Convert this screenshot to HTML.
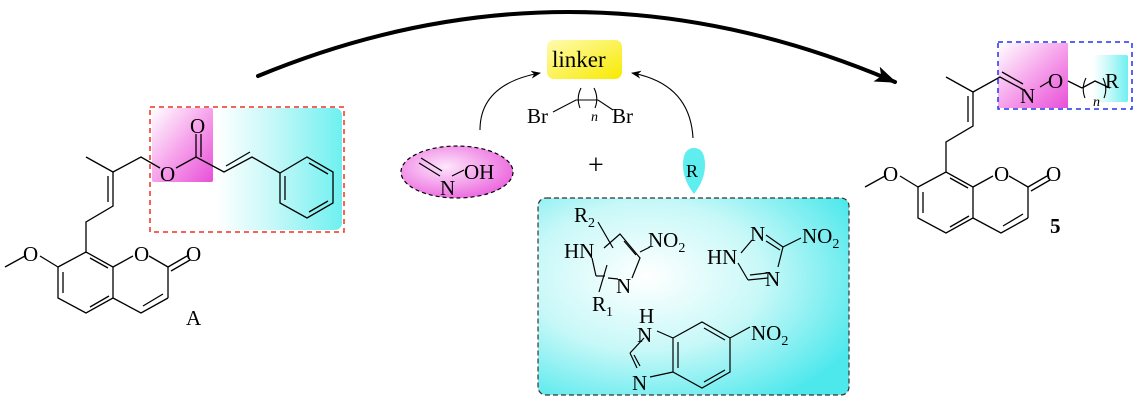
<!DOCTYPE html>
<html><head><meta charset="utf-8"><style>
html,body{margin:0;padding:0;background:#fff;}
svg{display:block;}
text{font-family:"Liberation Serif",serif;font-size:21px;fill:#000;}
.s{font-size:14px;}
</style></head><body>
<svg width="1137" height="402" viewBox="0 0 1137 402" xmlns="http://www.w3.org/2000/svg">
<defs>
<linearGradient id="mag" x1="0" y1="0" x2="1" y2="1"><stop offset="0" stop-color="#fff"/><stop offset="0.55" stop-color="#f59ae9"/><stop offset="1" stop-color="#e84fd8"/></linearGradient>
<linearGradient id="cy" x1="0" y1="0" x2="1" y2="0"><stop offset="0" stop-color="#fff"/><stop offset="0.45" stop-color="#c6f8f8"/><stop offset="1" stop-color="#6ff0f0"/></linearGradient>
<radialGradient id="cyb" cx="0.35" cy="0.4" r="0.75"><stop offset="0" stop-color="#fff"/><stop offset="0.5" stop-color="#c8f8f8"/><stop offset="1" stop-color="#4de8ec"/></radialGradient>
<radialGradient id="ell" cx="0.4" cy="0.4" r="0.7"><stop offset="0" stop-color="#fde6fb"/><stop offset="1" stop-color="#ea5cdc"/></radialGradient>
<linearGradient id="yel" x1="0" y1="0" x2="1" y2="1"><stop offset="0" stop-color="#fffbb0"/><stop offset="1" stop-color="#f8ea00"/></linearGradient>
<marker id="ah" markerWidth="10" markerHeight="8" refX="9" refY="4" orient="auto" markerUnits="userSpaceOnUse"><path d="M0,0 L10,4 L0,8 L3,4 z" fill="#000"/></marker>
<marker id="ahb" markerWidth="22" markerHeight="16" refX="20" refY="8" orient="auto" markerUnits="userSpaceOnUse"><path d="M0,0 L22,8 L0,16 L5,8 z" fill="#000"/></marker>
</defs>

<path d="M258,76 Q575,-55 895,82" fill="none" stroke="#000" stroke-width="4" stroke-linecap="round" marker-end="url(#ahb)"/>

<rect x="152" y="108" width="61" height="74" fill="url(#mag)" rx="2"/>
<rect x="216" y="108" width="126" height="122" fill="url(#cy)" rx="7"/>
<rect x="150" y="107" width="194" height="125" fill="none" stroke="#e32" stroke-width="1.5" stroke-dasharray="5,4"/>

<g stroke="#000" stroke-width="1.3" fill="none">
<line x1="5" y1="267" x2="25" y2="256"/>
<line x1="40" y1="256" x2="58" y2="267"/>
<polyline points="58,267 86,252 113,267 113,298 86,313 58,298 58,267"/>
<line x1="63" y1="272" x2="63" y2="293"/>
<line x1="90" y1="307" x2="109" y2="296"/>
<line x1="90" y1="258" x2="108" y2="268"/>
<line x1="113" y1="267" x2="133" y2="256"/>
<line x1="149" y1="256" x2="168" y2="267"/>
<line x1="168" y1="267" x2="168" y2="298"/>
<polyline points="168,298 141,313 113,298"/>
<line x1="163" y1="294" x2="143" y2="306"/>
<line x1="168" y1="267" x2="187" y2="256"/>
<line x1="171" y1="271" x2="190" y2="260"/>
<polyline points="86,252 86,222 113,206 113,172"/>
<line x1="108" y1="202" x2="108" y2="176"/>
<line x1="86" y1="157" x2="113" y2="172"/>
<polyline points="113,172 141,157 160,168"/>
<line x1="176" y1="168" x2="196" y2="157"/>
<line x1="196" y1="157" x2="196" y2="134"/>
<line x1="201" y1="157" x2="201" y2="134"/>
<polyline points="196,157 224,172 252,157 280,173"/>
<line x1="226" y1="166" x2="250" y2="152"/>
<polygon points="280,173 307,157 333,172 333,203 307,218 280,203"/>
<line x1="285" y1="176" x2="285" y2="200"/>
<line x1="309" y1="163" x2="328" y2="174"/>
<line x1="309" y1="212" x2="328" y2="201"/>
</g>
<text x="23" y="261">O</text>
<text x="134" y="261">O</text>
<text x="186" y="261">O</text>
<text x="160" y="181">O</text>
<text x="190" y="133">O</text>
<text x="186" y="325">A</text>

<rect x="547" y="40" width="75" height="39" rx="7" fill="url(#yel)"/>
<text x="552" y="67" style="font-size:23px">linker</text>
<text x="527" y="123">Br</text>
<text x="612" y="123">Br</text>
<g stroke="#000" stroke-width="1.1" fill="none">
<polyline points="553,112 576,100 598,100 613,110"/>
<path d="M581,88 Q576,98 580,108"/>
<path d="M594,88 Q599,98 595,108"/>
<path d="M480,130 Q480,84 540,73" marker-end="url(#ah)"/>
<path d="M693,138 Q690,84 632,73" marker-end="url(#ah)"/>
</g>
<text x="591" y="121" class="s" style="font-style:italic">n</text>

<ellipse cx="457" cy="172" rx="56" ry="26" fill="url(#ell)" stroke="#000" stroke-width="1.2" stroke-dasharray="4,3"/>
<g stroke="#000" stroke-width="1.2"><line x1="419" y1="163" x2="440" y2="176"/><line x1="421" y1="158" x2="442" y2="171"/><line x1="452" y1="176" x2="464" y2="170"/></g>
<text x="440" y="195">N</text>
<text x="464" y="179">OH</text>
<text x="588" y="174" style="font-size:28px">+</text>

<path d="M694,194 Q683,180 683,165 Q683,148 694,148 Q705,148 705,165 Q705,180 694,194 z" fill="#5eeef0"/>
<text x="686" y="177" style="font-size:18px">R</text>

<rect x="538" y="198" width="311" height="197" rx="8" fill="url(#cyb)" stroke="#333" stroke-width="1.2" stroke-dasharray="5,3"/>
<g stroke="#000" stroke-width="1.2" fill="none">
<line x1="592" y1="258" x2="596" y2="276"/>
<line x1="596" y1="276" x2="605" y2="276"/>
<line x1="608" y1="278" x2="618" y2="279"/>
<polyline points="632,278 640,258 620,234 604,248"/>
<line x1="624" y1="241" x2="636" y2="255"/>
<line x1="598" y1="222" x2="613" y2="248"/>
<line x1="607" y1="265" x2="599" y2="292"/>
<line x1="640" y1="252" x2="650" y2="247"/>
<line x1="741" y1="253" x2="752" y2="240"/>
<polyline points="766,235 783,247 778,267"/>
<line x1="766" y1="241" x2="780" y2="250"/>
<line x1="768" y1="278" x2="748" y2="280"/>
<line x1="767" y1="273" x2="750" y2="275"/>
<polyline points="748,280 738,263"/>
<line x1="783" y1="247" x2="801" y2="238"/>
<line x1="657" y1="331" x2="673" y2="338"/>
<line x1="644" y1="338" x2="630" y2="353"/>
<line x1="630" y1="353" x2="637" y2="368"/>
<line x1="634" y1="355" x2="640" y2="366"/>
<line x1="650" y1="377" x2="673" y2="372"/>
<polygon points="673,338 702,322 730,338 730,372 702,388 673,372"/>
<line x1="678" y1="342" x2="678" y2="368"/>
<line x1="704" y1="328" x2="725" y2="340"/>
<line x1="704" y1="382" x2="725" y2="370"/>
<line x1="730" y1="338" x2="750" y2="327"/>
</g>
<text x="574" y="222">R<tspan class="s" dy="5">2</tspan></text>
<text x="564" y="258">HN</text>
<text x="648" y="247">NO<tspan class="s" dy="5">2</tspan></text>
<text x="616" y="293">N</text>
<text x="592" y="311">R<tspan class="s" dy="5">1</tspan></text>
<text x="707" y="264">HN</text>
<text x="750" y="241">N</text>
<text x="802" y="243">NO<tspan class="s" dy="5">2</tspan></text>
<text x="765" y="286">N</text>
<text x="639" y="323">H</text>
<text x="637" y="342">N</text>
<text x="632" y="390">N</text>
<text x="751" y="340">NO<tspan class="s" dy="5">2</tspan></text>

<rect x="998" y="43" width="70" height="65" fill="url(#mag)"/>
<rect x="1093" y="55" width="35" height="47" fill="url(#cy)" rx="2"/>
<rect x="998" y="42" width="134" height="67" fill="none" stroke="#2233ee" stroke-width="1.5" stroke-dasharray="5,4"/>
<g transform="translate(860,-80)" stroke="#000" stroke-width="1.3" fill="none">
<line x1="5" y1="267" x2="25" y2="256"/>
<line x1="40" y1="256" x2="58" y2="267"/>
<polyline points="58,267 86,252 113,267 113,298 86,313 58,298 58,267"/>
<line x1="63" y1="272" x2="63" y2="293"/>
<line x1="90" y1="307" x2="109" y2="296"/>
<line x1="90" y1="258" x2="108" y2="268"/>
<line x1="113" y1="267" x2="133" y2="256"/>
<line x1="149" y1="256" x2="168" y2="267"/>
<line x1="168" y1="267" x2="168" y2="298"/>
<polyline points="168,298 141,313 113,298"/>
<line x1="163" y1="294" x2="143" y2="306"/>
<line x1="168" y1="267" x2="187" y2="256"/>
<line x1="171" y1="271" x2="190" y2="260"/>
<polyline points="86,252 86,222 113,206 113,172"/>
<line x1="108" y1="202" x2="108" y2="176"/>
<line x1="86" y1="157" x2="113" y2="172"/>
<polyline points="113,172 140,157 164,170"/>
<line x1="142" y1="152" x2="163" y2="164"/>
<line x1="180" y1="167" x2="190" y2="161"/>
<line x1="208" y1="161" x2="222" y2="168"/>
<polyline points="222,168 235,161 250,168"/>
</g>
<g stroke="#000" stroke-width="1.1" fill="none">
<path d="M1086,78 Q1081,88 1085,98"/>
<path d="M1103,78 Q1108,88 1104,98"/>
</g>
<g transform="translate(860,-80)">
<text x="23" y="261">O</text>
<text x="134" y="261">O</text>
<text x="186" y="261">O</text>
</g>
<text x="1020" y="103">N</text>
<text x="1048" y="88">O</text>
<text x="1105" y="88">R</text>
<text x="1093" y="106" class="s" style="font-style:italic">n</text>
<text x="1050" y="233" style="font-weight:bold">5</text>
</svg>
</body></html>
